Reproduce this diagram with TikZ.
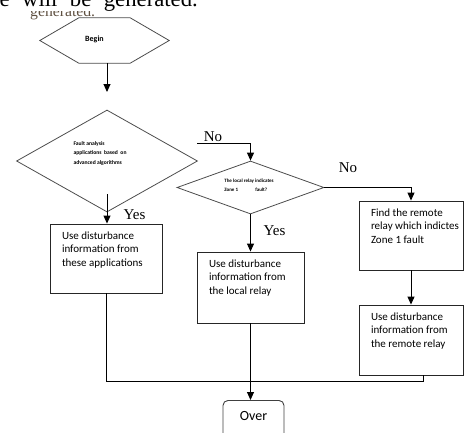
\documentclass[tikz,border=0pt]{standalone}
\usepackage{fontspec}
\setmainfont{Liberation Serif}
\setsansfont{Carlito}
\usetikzlibrary{shapes.geometric,arrows.meta,calc}
\definecolor{pagegray}{RGB}{95,80,65}
\tikzset{
  outline/.style={draw=black!70, line width=0.8pt},
  hexa/.style={rectangle, minimum width=129pt, minimum height=45pt, inner sep=0pt},
  decision/.style={diamond, outline, inner sep=0pt},
  tinytext/.style={font=\sffamily\bfseries\fontsize{5.6}{9.5}\selectfont, align=left, inner sep=0pt},
  box/.style={rectangle, draw=black!85, line width=0.9pt, inner sep=0pt, font=\sffamily\fontsize{11}{13.5}\selectfont},
  overbox/.style={rectangle, rounded corners=5pt, draw=black!75, line width=0.9pt, minimum width=61pt,
    text height=14pt, text depth=14pt, inner ysep=6pt, font=\sffamily\fontsize{14}{16}\selectfont},
  arr/.style={-{Triangle[length=8pt,width=7pt]}, line width=1pt},
  plain/.style={line width=1pt},
  yn/.style={font=\fontsize{15}{15}\selectfont, inner sep=0pt}
}
\newcommand{\boxtext}[3]{\parbox[c][#2][t]{#1}{\raggedright\leftskip=12pt\vspace*{6pt}\strut#3}}

\begin{document}
\begin{tikzpicture}[x=1pt, y=-1pt]
\useasboundingbox (0,0) rectangle (464,432);
\clip (0,0) rectangle (464,432);

% cut-off page text at the top
\node[anchor=base west, inner sep=0pt, text=pagegray, font=\fontsize{15.7}{16}\selectfont] (pg2) at (30,16) {generated.};
\node[anchor=base east, inner sep=0pt, fill=white, font=\fontsize{22.7}{24}\selectfont] (pg1) at (198,6.5) {\spaceskip=12.5pt e will be generated.};

% start
\node[hexa, label={[font=\sffamily\bfseries\fontsize{8}{9}\selectfont, xshift=-10pt, yshift=1.5pt]center:Begin}] (begin) at (104.5,40.5) {};
\draw[outline] (begin.west) -- ([xshift=39pt]begin.north west) -- ([xshift=-39pt]begin.north east)
  -- (begin.east) -- ([xshift=-39pt]begin.south east) -- ([xshift=39pt]begin.south west) -- cycle;

% decisions
\node[decision, minimum width=181pt, minimum height=102pt,
  label={[tinytext, xshift=-7pt, yshift=7.5pt]center:{Fault analysis\\applications~ based~ on\\advanced algorithms}}] (d1) at (107,161) {};
\node[decision, minimum width=147pt, minimum height=53pt,
  label={[tinytext, font=\sffamily\bfseries\fontsize{5}{9}\selectfont, xshift=-1.5pt, yshift=2pt]center:{The local relay indicates\\Zone 1\hspace{16pt} fault?}}] (d2) at (250.5,187.5) {};

% actions
\node[box] (box1) at (106,258.5) {\boxtext{112pt}{69pt}{Use disturbance\\information from\\these applications}};
\node[box] (box2) at (250.5,287.5) {\boxtext{107pt}{71pt}{Use disturbance\\information from\\the local relay}};
\node[box] (box3) at (411,235.5) {\boxtext{104pt}{69pt}{Find the remote\\relay which indictes\\Zone 1 fault}};
\node[box] (box4) at (411,340) {\boxtext{104pt}{70pt}{Use disturbance\\information from\\the remote relay}};
\node[overbox, anchor=north] (over) at (253.5,400) {Over};

% labels
\node[yn, anchor=base] (no1) at (213,141.5) {No};
\node[yn, anchor=base] (no2) at (348,172) {No};
\node[yn, anchor=base] (yes1) at (134.5,219) {Yes};
\node[yn, anchor=base] (yes2) at (274.5,235) {Yes};

% connectors
\coordinate (b1) at (107,92);
\coordinate (y1) at (107,194);
\coordinate (n1) at (197,143);
\coordinate (m1) at (423,381);
\draw[arr] (b1 |- begin.south) -- (b1);
\draw[arr] (y1) -- (y1 |- box1.north);
\draw[arr] (n1) -| (d2.north);
\draw[arr] (d2.east) -| (box3.north);
\draw[arr] (d2.south) -- (d2.south |- box2.north);
\draw[arr] (box3.south) -- (box4.north);
\draw[plain] (box1.south) |- (m1) -- (m1 |- box4.south);
\draw[arr] (box2.south) -- (box2.south |- over.north);
\end{tikzpicture}
\end{document}
